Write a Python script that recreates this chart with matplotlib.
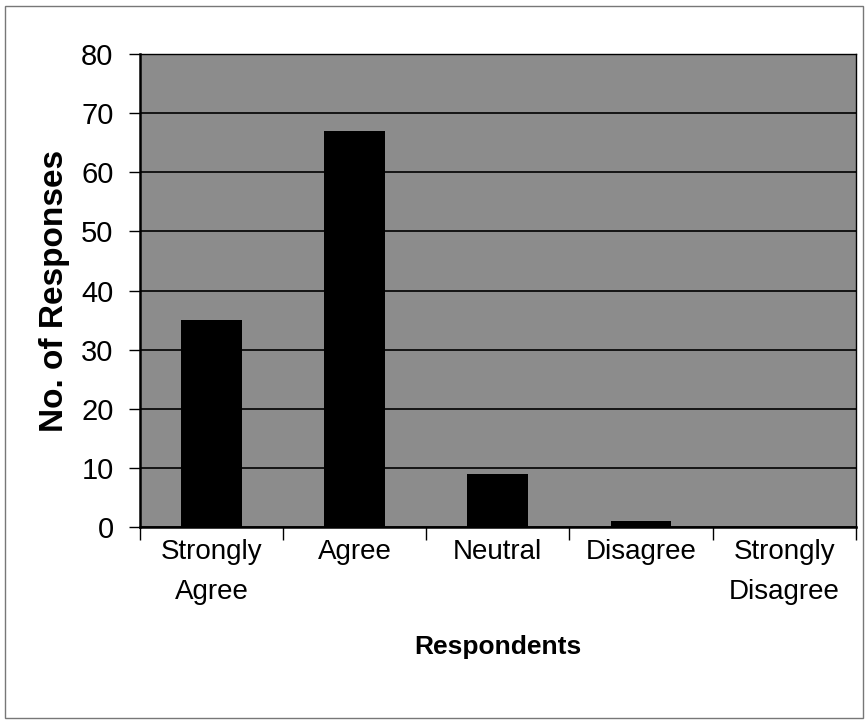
import matplotlib.pyplot as plt
import numpy as np

# Data
categories = ['Strongly\nAgree', 'Agree', 'Neutral', 'Disagree', 'Strongly\nDisagree']
responses = [35, 67, 9, 1, 0]

plt.rcParams['font.family'] = ['Liberation Sans', 'DejaVu Sans']

fig = plt.figure(figsize=(8.68, 7.23), dpi=100)
ax = fig.add_axes([0.1613, 0.2711, 0.8245, 0.6542])
ax.set_facecolor('#8c8c8c')

x = np.arange(len(categories))
ax.bar(x, responses, width=0.425, color='black', zorder=3)

ax.set_xlim(-0.5, len(categories) - 0.5)
ax.set_ylim(0, 80)
ax.set_yticks(np.arange(0, 81, 10))
ax.yaxis.grid(True, color='black', linewidth=1.2, zorder=1)
ax.set_axisbelow(True)

# ticks between categories, labels at centers
ax.set_xticks(np.arange(-0.5, len(categories), 1.0))
ax.set_xticklabels([])
ax.set_xticks(x, minor=True)
ax.set_xticklabels(categories, minor=True, fontsize=20, linespacing=1.7)
ax.tick_params(axis='x', which='minor', length=0, pad=9)
ax.tick_params(axis='x', which='major', length=9, width=1, direction='out')
ax.tick_params(axis='y', labelsize=21, length=8, width=1, direction='out', pad=11)

for s in ['top', 'right']:
    ax.spines[s].set_linewidth(1.0)
for s in ['left', 'bottom']:
    ax.spines[s].set_linewidth(1.8)

ax.set_ylabel('No. of Responses', fontsize=24, fontweight='bold', labelpad=8)
ax.set_xlabel('Respondents', fontsize=19, fontweight='bold', labelpad=21)

# outer chart border
fig.patches.append(plt.Rectangle((5 / 868, 5 / 723), 858 / 868, 712 / 723, transform=fig.transFigure,
                                 fill=False, edgecolor='#777777', linewidth=1))

fig.savefig('out.png', dpi=100)
